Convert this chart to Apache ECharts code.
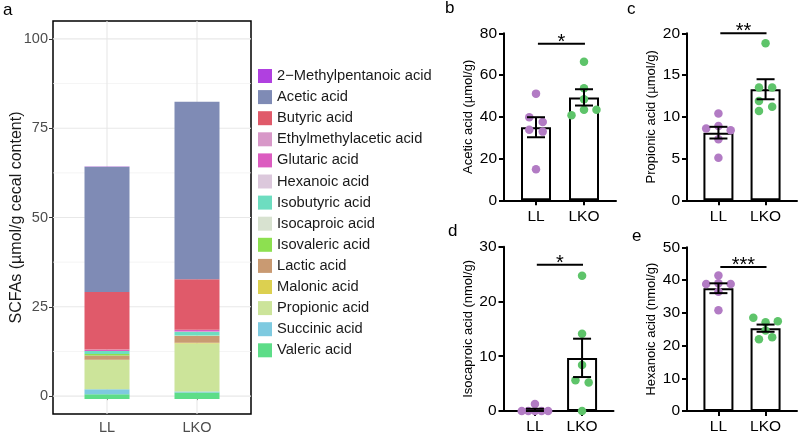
<!DOCTYPE html>
<html><head><meta charset="utf-8">
<script src="https://cdn.jsdelivr.net/npm/echarts@6/dist/echarts.min.js"></script>
<style>html,body{margin:0;padding:0;background:#fff}#c{width:800px;height:435px}</style>
</head><body><div id="c"></div>
<script>
// ---------- data ----------
const groups = ['LL', 'LKO'];
const acidNames = ['2−Methylpentanoic acid','Acetic acid','Butyric acid','Ethylmethylacetic acid','Glutaric acid','Hexanoic acid','Isobutyric acid','Isocaproic acid','Isovaleric acid','Lactic acid','Malonic acid','Propionic acid','Succinic acid','Valeric acid'];
const scfaLL  = [0.05, 34.8, 16.0, 0.1, 0.3, 0.04, 0.8, 0.0, 0.4, 1.2, 0.1, 8.1, 1.4, 1.3];
const scfaLKO = [0.05, 49.3, 14.0, 0.1, 0.4, 0.03, 1.1, 0.01, 0.1, 1.9, 0.2, 13.3, 0.3, 1.8];
const scfaTicks = [0, 25, 50, 75, 100];
const scfaMinorTicks = [12.5, 37.5, 62.5, 87.5];

const aceticLL = [51.1, 39.8, 37.5, 33.8, 32.9, 14.9];
const aceticLKO = [66.4, 53.7, 48.4, 40.7, 43.4, 43.4];
const aceticMean = [35.0, 49.3];
const aceticSem = [4.8, 3.9];

const propionicLL = [10.4, 8.6, 8.9, 8.4, 7.3, 5.1];
const propionicLKO = [18.8, 13.5, 13.5, 11.9, 11.2, 10.7];
const propionicMean = [8.1, 13.3];
const propionicSem = [0.7, 1.2];

const isocaproicLL = [0, 0, 0, 0, 0, 1.3];
const isocaproicLKO = [24.7, 14.1, 8.4, 5.6, 5.2, 0];
const isocaproicMean = [0.2, 9.7];
const isocaproicSem = [0.2, 3.5];

const hexanoicLL = [41.4, 38.8, 39.0, 38.8, 36.4, 30.8];
const hexanoicLKO = [28.5, 27.1, 27.4, 24.6, 21.9, 22.5];
const hexanoicMean = [37.5, 25.3];
const hexanoicSem = [1.5, 1.1];

const sigLabels = ['*', '**', '*', '***'];
const sigLevels = [75, 20, 26.7, 44];

// ---------- layout / style (not data) ----------
const acidColors = ['#b040e0','#7f8bb5','#e05a6a','#d898c8','#dc5cc0','#dcc8dc','#6dddc0','#d8e2d0','#8de050','#c99a72','#dcd050','#cce49a','#7ecae0','#5ddd88'];
const jitter = {
  b: [[0,-0.14,0.14,-0.14,0.14,0],[0,0,0,-0.26,0,0.26]],
  c: [[0,-0.26,0,0.26,0,0],[0,-0.14,0.14,-0.14,0.14,-0.14]],
  d: [[-0.28,-0.14,0,0.14,0.28,0],[0,0,0,-0.14,0.14,0]],
  e: [[0,-0.26,0,0.26,0,0],[-0.26,0,0.26,0,-0.14,0.14]]
};
const FONT = 'Liberation Sans, Arial, sans-serif';
const ptColors = ['#b27bc4', '#5ec46a'];

const chart = echarts.init(document.getElementById('c'), null, {renderer: 'canvas'});

const grids = [
  {left: 53, top: 21, width: 198, height: 396, show: true, borderColor: '#000', borderWidth: 1.5, backgroundColor: 'transparent'},
  {left: 504, top: 33.3, width: 112, height: 167},
  {left: 687, top: 33.3, width: 110, height: 167},
  {left: 503.5, top: 246.7, width: 110, height: 167},
  {left: 687, top: 247.3, width: 110, height: 166.4},
  {left: 62, top: 21, width: 180, height: 396}
];

const xAxes = [{
  gridIndex: 0, type: 'value', min: 0.4, max: 2.6,
  axisLine: {show: false},
  axisTick: {show: true, customValues: [1, 2], length: 4, lineStyle: {color: '#333'}},
  axisLabel: {customValues: [1, 2], formatter: v => groups[Math.round(v) - 1], fontSize: 14.5, color: '#4d4d4d', margin: 6, fontFamily: FONT},
  splitLine: {show: false}
}];
const yAxes = [{
  gridIndex: 0, type: 'value', min: -5, max: 105,
  axisLine: {show: false},
  axisTick: {show: true, customValues: scfaTicks, length: 4, lineStyle: {color: '#333'}},
  axisLabel: {customValues: scfaTicks, fontSize: 14.5, color: '#4d4d4d', margin: 5, fontFamily: FONT},
  splitLine: {show: false},
  name: 'SCFAs (µmol/g cecal content)', nameLocation: 'middle', nameGap: 28, nameMoveOverlap: false,
  nameTextStyle: {fontSize: 16, color: '#1a1a1a', fontFamily: FONT}
}];

const axLine = {color: '#000', width: 2};
const panelDefs = [
  {key: 'b', max: 80, interval: 20, title: 'Acetic acid (µmol/g)', LL: aceticLL, LKO: aceticLKO, mean: aceticMean, sem: aceticSem},
  {key: 'c', max: 20, interval: 5, title: 'Propionic acid (µmol/g)', LL: propionicLL, LKO: propionicLKO, mean: propionicMean, sem: propionicSem},
  {key: 'd', max: 30, interval: 10, title: 'Isocaproic acid (nmol/g)', LL: isocaproicLL, LKO: isocaproicLKO, mean: isocaproicMean, sem: isocaproicSem},
  {key: 'e', max: 50, interval: 10, title: 'Hexanoic acid (nmol/g)', LL: hexanoicLL, LKO: hexanoicLKO, mean: hexanoicMean, sem: hexanoicSem}
];

panelDefs.forEach((p, i) => {
  const gi = i + 1;
  xAxes.push({
    gridIndex: gi, type: 'value', min: 1/3, max: 8/3,
    axisLine: {show: true, onZero: false, lineStyle: axLine},
    axisTick: {show: true, customValues: [1, 2], length: 5, lineStyle: axLine},
    axisLabel: {customValues: [1, 2], formatter: v => groups[Math.round(v) - 1], fontSize: 15.5, color: '#000', margin: 8, fontFamily: FONT},
    splitLine: {show: false}
  });
  yAxes.push({
    gridIndex: gi, type: 'value', min: 0, max: p.max, interval: p.interval,
    axisLine: {show: true, onZero: false, lineStyle: axLine},
    axisTick: {show: true, length: 5, lineStyle: axLine},
    axisLabel: {fontSize: 15.5, color: '#000', margin: 7, fontFamily: FONT},
    splitLine: {show: false},
    name: p.title, nameLocation: 'middle', nameGap: 29,
    nameTextStyle: {fontSize: 13, color: '#000', fontFamily: FONT}
  });
});

// overlay axes for stacked bars in panel a (index 5)
xAxes.push({gridIndex: 5, type: 'category', data: groups, show: false, boundaryGap: true});
yAxes.push({gridIndex: 5, type: 'value', min: -5, max: 105, show: false});

const series = [];

// panel a grid lines
series.push({
  type: 'custom', xAxisIndex: 0, yAxisIndex: 0, silent: true, z: 1,
  data: scfaTicks.map(v => [1, v, 1]).concat(scfaMinorTicks.map(v => [1, v, 0])),
  renderItem: (params, api) => {
    const cs = params.coordSys;
    const y = api.coord([1, api.value(1)])[1];
    const major = api.value(2) === 1;
    return {type: 'line', shape: {x1: cs.x, y1: y, x2: cs.x + cs.width, y2: y},
      style: {stroke: major ? '#e8e8e8' : '#f1f1f1', lineWidth: major ? 1.1 : 0.7}};
  }
});
series.push({
  type: 'custom', xAxisIndex: 0, yAxisIndex: 0, silent: true, z: 1,
  data: [[1, 0], [2, 0]],
  renderItem: (params, api) => {
    const cs = params.coordSys;
    const x = api.coord([api.value(0), 0])[0];
    return {type: 'line', shape: {x1: x, y1: cs.y, x2: x, y2: cs.y + cs.height},
      style: {stroke: '#e8e8e8', lineWidth: 1.1}};
  }
});

// panel a stacked bars (bottom-most level first)
for (let i = acidNames.length - 1; i >= 0; i--) {
  series.push({
    type: 'bar', name: acidNames[i], xAxisIndex: 5, yAxisIndex: 5, stack: 'scfa', barWidth: 45, z: 3,
    data: [scfaLL[i], scfaLKO[i]],
    itemStyle: {color: acidColors[i]},
    emphasis: {disabled: true}
  });
}

function errRender(params, api) {
  const x = api.value(0), m = api.value(1), s = api.value(2);
  const top = api.coord([x, m + s]), bot = api.coord([x, m - s]);
  const half = 9;
  const style = {stroke: '#000', lineWidth: 2};
  return {type: 'group', children: [
    {type: 'line', shape: {x1: top[0], y1: top[1], x2: bot[0], y2: bot[1]}, style},
    {type: 'line', shape: {x1: top[0] - half, y1: top[1], x2: top[0] + half, y2: top[1]}, style},
    {type: 'line', shape: {x1: bot[0] - half, y1: bot[1], x2: bot[0] + half, y2: bot[1]}, style}
  ]};
}

panelDefs.forEach((p, i) => {
  const gi = i + 1;
  series.push({
    type: 'bar', xAxisIndex: gi, yAxisIndex: gi, barWidth: 30, z: 3,
    data: [[1, p.mean[0]], [2, p.mean[1]]],
    itemStyle: {color: '#fff', borderColor: '#000', borderWidth: 2},
    emphasis: {disabled: true}
  });
  [p.LL, p.LKO].forEach((vals, g) => {
    series.push({
      type: 'scatter', xAxisIndex: gi, yAxisIndex: gi, symbol: 'circle', symbolSize: 8.5, z: 4,
      data: vals.map((v, k) => [g + 1 + jitter[p.key][g][k], v]),
      itemStyle: {color: ptColors[g], opacity: 1},
      emphasis: {disabled: true}
    });
  });
  series.push({
    type: 'custom', xAxisIndex: gi, yAxisIndex: gi, z: 5, silent: true,
    data: [[1, p.mean[0], p.sem[0]], [2, p.mean[1], p.sem[1]]],
    encode: {x: 0, y: 1},
    renderItem: errRender
  });
  const label = sigLabels[i];
  series.push({
    type: 'custom', xAxisIndex: gi, yAxisIndex: gi, z: 5, silent: true,
    data: [[1.04, 2.02, sigLevels[i]]],
    encode: {x: [0, 1], y: 2},
    renderItem: (params, api) => {
      const y = api.value(2);
      const p1 = api.coord([api.value(0), y]), p2 = api.coord([api.value(1), y]);
      return {type: 'group', children: [
        {type: 'line', shape: {x1: p1[0], y1: p1[1], x2: p2[0], y2: p2[1]}, style: {stroke: '#000', lineWidth: 2}},
        {type: 'text', x: (p1[0] + p2[0]) / 2, y: p1[1] - 1.5,
          style: {text: label, fill: '#000', font: '20px ' + FONT, textAlign: 'center', textVerticalAlign: 'middle'}}
      ]};
    }
  });
});

const letters = [['a', 3, 11], ['b', 445, 9], ['c', 627, 10], ['d', 448, 232], ['e', 632, 237]];

chart.setOption({
  animation: false,
  textStyle: {fontFamily: FONT},
  grid: grids,
  xAxis: xAxes,
  yAxis: yAxes,
  legend: {
    data: acidNames, orient: 'vertical', left: 258, top: 68.5, padding: 0,
    itemWidth: 14, itemHeight: 14, itemGap: 6.1, icon: 'rect', selectedMode: false,
    textStyle: {fontSize: 14.7, color: '#1a1a1a', fontFamily: FONT, lineHeight: 14}
  },
  graphic: letters.map(l => ({
    type: 'text', left: l[1], top: l[2] - 9,
    style: {text: l[0], font: '17px ' + FONT, fill: '#000'}
  })),
  series: series
});
</script></body></html>
